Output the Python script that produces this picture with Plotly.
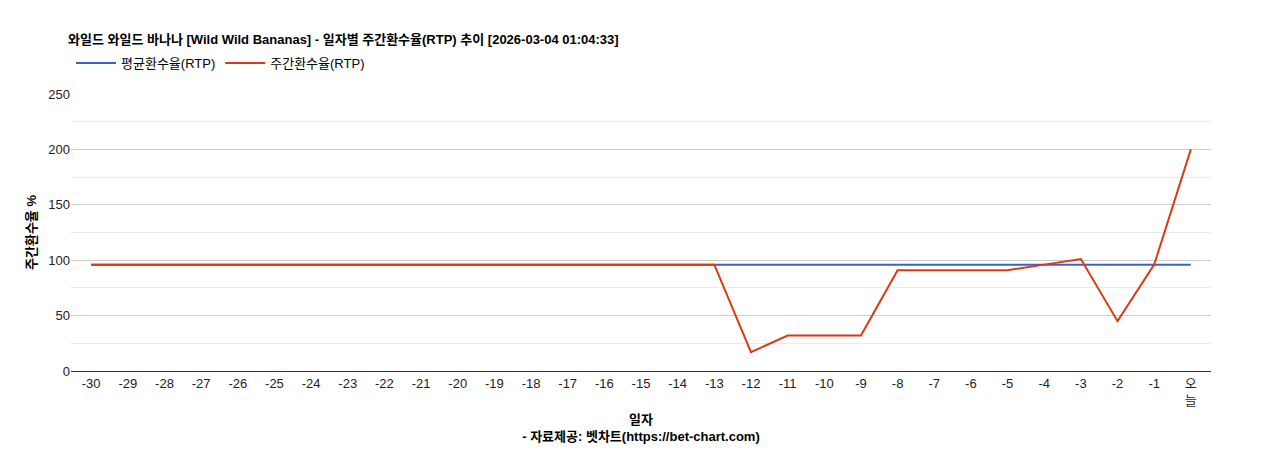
import plotly.graph_objects as go

days = [str(d) for d in range(-30, 0)] + ["오<br>늘"]
avg_rtp = [96] * 31
weekly_rtp = [96] * 18 + [17, 32, 32, 32, 91, 91, 91, 91, 96, 101, 45, 96, 200]

font = "Liberation Sans, Noto Sans CJK KR"

fig = go.Figure()
fig.add_trace(go.Scatter(x=days, y=avg_rtp, mode="lines", name="평균환수율(RTP)",
                         line=dict(color="#3366cc", width=2)))
fig.add_trace(go.Scatter(x=days, y=weekly_rtp, mode="lines", name="주간환수율(RTP)",
                         line=dict(color="#dc3912", width=2)))

fig.update_layout(
    width=1268, height=450,
    paper_bgcolor="white", plot_bgcolor="white",
    font=dict(family=font, size=13, color="#222"),
    margin=dict(l=63, r=65, t=86, b=87, autoexpand=False),
    title=dict(text="<b>와일드 와일드 바나나 [Wild Wild Bananas] - 일자별 주간환수율(RTP) 추이 [2026-03-04 01:04:33]</b>",
               x=0, xref="container", xanchor="left", y=1 - 31 / 450, yanchor="middle",
               pad=dict(l=60), font=dict(size=13, color="#000")),
    legend=dict(orientation="h", x=0, y=1 + 31 / 277, xanchor="left", yanchor="middle",
                font=dict(size=13, color="#000"), itemwidth=40),
    showlegend=True,
)
fig.update_xaxes(
    type="category", showgrid=False, showline=True, linecolor="#333",
    ticks="", tickfont=dict(size=13, color="#222"), tickangle=0,
    range=[-0.55, 30.55],
    title=dict(text="<b>일자</b><br><b>- 자료제공: 벳차트(https://bet-chart.com)</b>",
               font=dict(size=13, color="#000"), standoff=8),
)
fig.update_yaxes(
    range=[0, 250], dtick=50, gridcolor="#cccccc", zeroline=False,
    minor=dict(dtick=25, showgrid=True, gridcolor="#ebebeb"),
    tickfont=dict(size=13, color="#222"),
    title=dict(text="<b>주간환수율 %</b>", font=dict(size=13, color="#000"), standoff=8),
)

fig.write_html("out.html")
